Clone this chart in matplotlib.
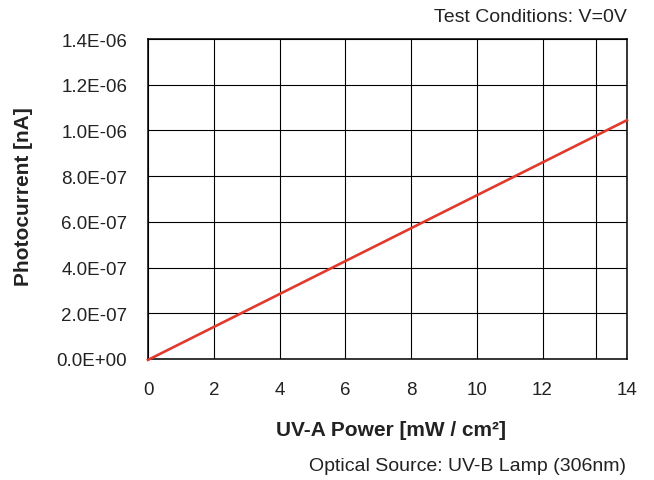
import numpy as np
from matplotlib import pyplot as plt

plt.rcParams['font.family'] = ['Liberation Sans', 'DejaVu Sans']

# data (x in the chart's own grid units)
power = [0.0, 14.57]
current = [-0.04e-7, 10.45e-7]

x_ticks = [0, 2, 4, 6, 8, 10, 12, 14.57]
x_labels = ['0', '2', '4', '6', '8', '10', '12', '14']
extra_grid = [13.64]
y_ticks = [0, 2e-7, 4e-7, 6e-7, 8e-7, 1e-6, 1.2e-6, 1.4e-6]
y_labels = ['0.0E+00', '2.0E-07', '4.0E-07', '6.0E-07', '8.0E-07', '1.0E-06', '1.2E-06', '1.4E-06']

txt = '#222222'

fig = plt.figure(figsize=(6.54, 4.81), dpi=100)
ax = fig.add_axes([0.2263, 0.2516, 0.7324, 0.6652])

ax.plot(power, current, color='#E0392E', linewidth=1.9, clip_on=False, zorder=3)

ax.set_xlim(0, 14.57)
ax.set_ylim(0, 1.4e-6)
ax.set_xticks(x_ticks)
ax.set_xticklabels(x_labels)
ax.set_yticks(y_ticks)
ax.set_yticklabels(y_labels)
ax.tick_params(length=0, labelsize=13.5, labelcolor=txt)
ax.tick_params(axis='y', pad=15)
ax.tick_params(axis='x', pad=15.5)
ax.grid(True, color='black', linewidth=0.8)
for gx in extra_grid:
	ax.axvline(gx, color='black', linewidth=0.8)
for spine in ax.spines.values():
	spine.set_linewidth(1.1)

fig.text(391/654, 1-430/481, 'UV-A Power [mW / cm²]', ha='center', va='center',
	fontsize=15, fontweight='bold', color=txt)
fig.text(24/654, 1-197/481, 'Photocurrent [nA]', ha='center', va='center', rotation=90,
	fontsize=15, fontweight='bold', color=txt)

fig.text(627/654, 1-17/481, 'Test Conditions: V=0V', ha='right', va='center', fontsize=14, color=txt)
fig.text(626/654, 1-467/481, 'Optical Source: UV-B Lamp (306nm)', ha='right', va='center', fontsize=14, color=txt)

plt.savefig('out.png', dpi=100)
